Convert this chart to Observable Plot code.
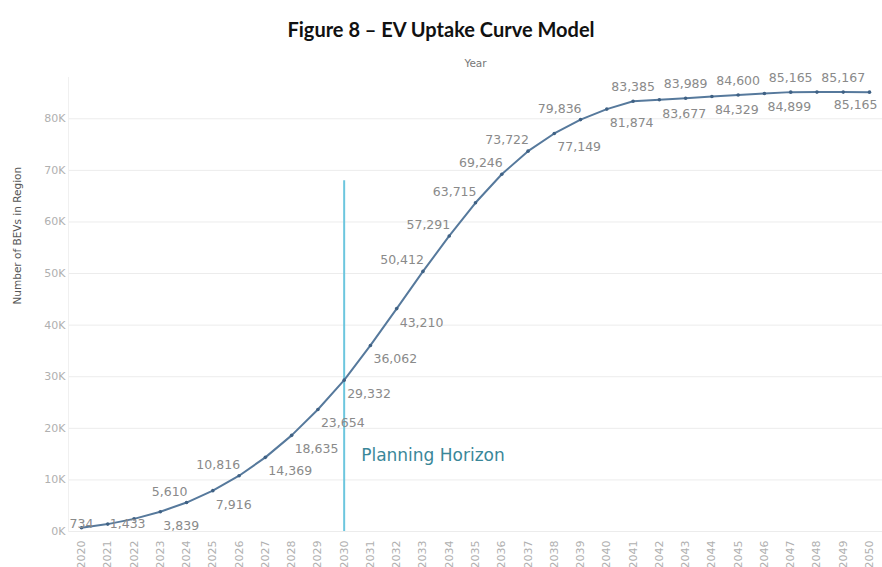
<!DOCTYPE html>
<html>
<head>
<meta charset="utf-8">
<script src="https://cdn.jsdelivr.net/npm/d3@7"></script>
<script src="https://cdn.jsdelivr.net/npm/@observablehq/plot@0.6"></script>
<style>
  html, body { margin: 0; padding: 0; background: #fff; overflow: hidden; }
  #title { height: 45px; box-sizing: border-box; padding-top: 18px; text-align: center;
           font-family: Lato, "Open Sans", sans-serif; font-weight: 700; font-size: 20px; line-height: 22px; color: #111; }
  #chart svg { display: block; }
</style>
</head>
<body>
<div id="title">Figure 8 – EV Uptake Curve Model</div>
<div id="chart"></div>
<script>
// ---- data ----
const years = [2020, 2021, 2022, 2023, 2024, 2025, 2026, 2027, 2028, 2029, 2030,
               2031, 2032, 2033, 2034, 2035, 2036, 2037, 2038, 2039, 2040,
               2041, 2042, 2043, 2044, 2045, 2046, 2047, 2048, 2049, 2050];
const bevs = [734, 1433, 2450, 3839, 5610, 7916, 10816, 14369, 18635, 23654, 29332,
              36062, 43210, 50412, 57291, 63715, 69246, 73722, 77149, 79836, 81874,
              83385, 83677, 83989, 84329, 84600, 84899, 85165, 85166, 85167, 85165];
const unlabeledYears = [2022, 2048];
const yTicks = [0, 10000, 20000, 30000, 40000, 50000, 60000, 70000, 80000];
const horizonYear = 2030;
const horizonTop = 68000;
const horizonLabel = "Planning Horizon";
const horizonLabelValue = 14700;
const xTitle = "Year";
const yTitle = "Number of BEVs in Region";

const data = years.map((year, i) => ({year, value: bevs[i]}));

// ---- label placement (layout) ----
const groups = {
  on:          [2020],
  onRight:     [2021],
  belowRight:  [2023, 2025, 2027, 2028, 2029, 2030, 2031, 2032, 2038, 2040, 2042, 2044, 2046],
  aboveLeft:   [2024, 2026, 2033, 2034, 2035, 2036, 2037, 2039],
  aboveCenter: [2041, 2043, 2045, 2047, 2049],
  belowEnd:    [2050]
};
const inGroup = g => data.filter(d => groups[g].includes(d.year) && !unlabeledYears.includes(d.year));
const fmt = d3.format(",");
const labelStyle = {x: "year", y: "value", text: d => fmt(d.value), fill: "#8a8a8a", fontSize: 12.5};

const lineColor = "#56799c";

const plot = Plot.plot({
  width: 882,
  height: 522,
  marginLeft: 68,
  marginRight: 0,
  marginTop: 32,
  marginBottom: 36,
  style: {fontFamily: "'DejaVu Sans', sans-serif", fontSize: "11px", background: "#fff"},
  x: {type: "linear", domain: [2020, 2050], insetLeft: 13, insetRight: 13},
  y: {domain: [0, 88000]},
  marks: [
    Plot.gridY(yTicks, {stroke: "#ececec", strokeOpacity: 1}),
    Plot.frame({anchor: "left", stroke: "#f0f0f0"}),
    Plot.axisY({ticks: yTicks, tickFormat: d => d / 1000 + "K", tickSize: 0, tickPadding: 3,
                color: "#b0b0b0", fontSize: 11, label: null}),
    Plot.axisX({ticks: years, tickFormat: "d", tickRotate: -90, tickSize: 0, tickPadding: 9,
                color: "#b0b0b0", fontSize: 11, label: null}),
    Plot.text([yTitle], {frameAnchor: "left", rotate: -90, dx: -51, fill: "#555", fontSize: 10.5}),
    Plot.text([xTitle], {frameAnchor: "top", dy: -18, fill: "#777", fontSize: 10.5}),
    Plot.ruleX([horizonYear], {y1: 0, y2: horizonTop, stroke: "#6cc6de", strokeWidth: 2}),
    Plot.text([horizonLabel], {x: horizonYear, y: horizonLabelValue, dx: 17, textAnchor: "start",
               fill: "#3a8799", fontSize: 17}),
    Plot.line(data, {x: "year", y: "value", stroke: lineColor, strokeWidth: 2}),
    Plot.dot(data, {x: "year", y: "value", r: 1.8, fill: "#3f6184"}),
    Plot.text(inGroup("on"), {...labelStyle, dy: -4}),
    Plot.text(inGroup("onRight"), {...labelStyle, textAnchor: "start", dx: 2, dy: 0}),
    Plot.text(inGroup("belowRight"), {...labelStyle, textAnchor: "start", dx: 3, dy: 14}),
    Plot.text(inGroup("aboveLeft"), {...labelStyle, textAnchor: "end", dx: 1, dy: -11}),
    Plot.text(inGroup("aboveCenter"), {...labelStyle, dy: -14}),
    Plot.text(inGroup("belowEnd"), {...labelStyle, textAnchor: "end", dx: 8, dy: 13})
  ]
});
document.getElementById("chart").appendChild(plot);
</script>
</body>
</html>
